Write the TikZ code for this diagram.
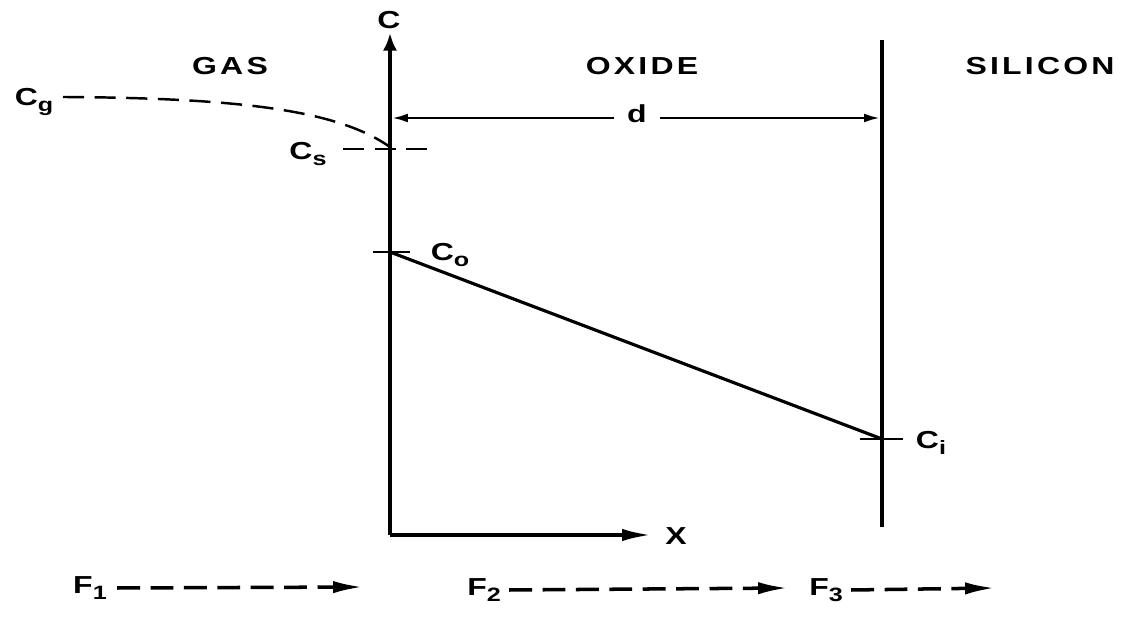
\documentclass[tikz,border=0pt]{standalone}
\usepackage{fontspec}
\setmainfont{Liberation Sans}[LetterSpace=10]
\usetikzlibrary{arrows.meta}
\newcommand\lsub[1]{\raisebox{-0.45ex}{\fontsize{11}{12}\selectfont #1}}
\tikzset{
  lbl/.style={font=\fontsize{14}{16}\selectfont\bfseries, xscale=1.3, inner sep=0pt},
  axis/.style={line width=2.2pt},
  wall/.style={line width=2pt},
  prof/.style={line width=1.8pt},
  tick/.style={line width=1.5pt},
  dimline/.style={line width=1.4pt, {Latex[length=9pt,width=5pt]}-{Latex[length=9pt,width=5pt]}},
  conc/.style={line width=1.4pt, dash pattern=on 12pt off 6pt},
  flux/.style={line width=2pt, dash pattern=on 13pt off 6pt, -{Latex[length=17pt,width=7pt]}},
}
\begin{document}
\begin{tikzpicture}[x=0.02cm,y=-0.02cm]
\useasboundingbox (0,0) rectangle (1126,617);
% key points
\coordinate (O) at (390,535);
\coordinate (Ctop) at (390,33);
\coordinate (Xend) at (652,535);
\coordinate (Rtop) at (882,40);
\coordinate (Rbot) at (882,527);
\coordinate (dL) at (392,118);
\coordinate (dR) at (880,118);
\coordinate (Cop) at (390,252);
\coordinate (CoL) at (373,252);
\coordinate (CoR) at (410,252);
\coordinate (Cip) at (882,439);
\coordinate (CiL) at (860,439);
\coordinate (CiR) at (903,439);
\coordinate (CsL) at (343,149);
\coordinate (CsR) at (437,149);
\coordinate (Csp) at (390,147);
\coordinate (Cgp) at (63,97);
\coordinate (f1e) at (363,587);
\coordinate (f2e) at (788,588);
\coordinate (f3e) at (995,588);
% labels
\node[lbl] (Clab) at (389,20) {C};
\node[lbl] (Xlab) at (676,536) {X};
\node[lbl] (gas) at (230,66) {GAS};
\node[lbl] (oxide) at (642,66) {OXIDE};
\node[lbl] (silicon) at (1040,66) {SILICON};
\node[lbl] (Cg) at (34,102) {C\lsub{g}};
\node[lbl] (Cs) at (308,154) {C\lsub{s}};
\node[lbl] (Co) at (450,255) {C\lsub{o}};
\node[lbl] (Ci) at (931,443) {C\lsub{i}};
\node[lbl] (F1) at (90,588) {F\lsub{1}};
\node[lbl] (F2) at (484,590) {F\lsub{2}};
\node[lbl] (F3) at (826,590) {F\lsub{3}};
% axes
\draw[axis, -{Latex[length=10pt,width=8pt]}] (O) -- (Ctop);
\draw[axis, -{Latex[length=17pt,width=7pt]}] (O) -- (Xend);
\draw[wall] (Rtop) -- (Rbot);
% dimension d
\draw[dimline] (dL) -- (dR);
\node[lbl, fill=white, inner xsep=6pt] (d) at (637,114) {d};
% concentration profile
\draw[conc] (Cgp) .. controls (250,98) and (340,112) .. (Csp);
\draw[conc] (CsL) -- (CsR);
\draw[tick] (CoL) -- (CoR);
\draw[prof] (Cop) -- (Cip);
\draw[tick] (CiL) -- (CiR);
% fluxes
\draw[flux] (F1.east) ++(10,0) -- (f1e);
\draw[flux] (F2.east) ++(8,0) -- (f2e);
\draw[flux] (F3.east) ++(8,0) -- (f3e);
\end{tikzpicture}
\end{document}
